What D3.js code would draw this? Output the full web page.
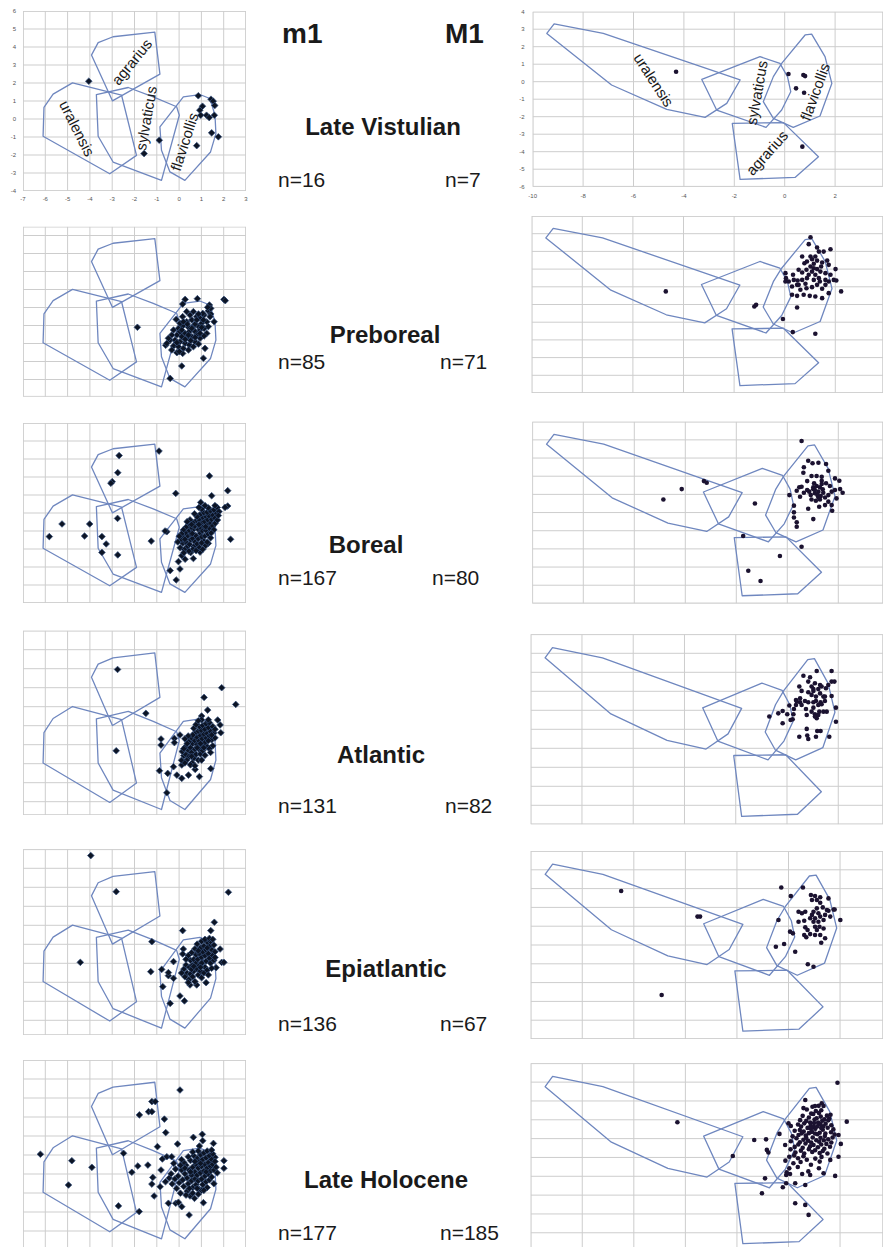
<!DOCTYPE html>
<html><head><meta charset="utf-8">
<script src="https://cdn.jsdelivr.net/npm/d3@7"></script>
<style>body{margin:0;background:#fff}svg{display:block}text{font-family:"Liberation Sans",Arial,sans-serif}</style>
</head><body><svg id="c" width="883" height="1247"></svg>
<script>
// ---------- data ----------
const periods = ["Late Vistulian","Preboreal","Boreal","Atlantic","Epiatlantic","Late Holocene"];
const m1Counts = [16,85,167,131,136,177];
const M1Counts = [7,71,80,82,67,185];
const m1XTicks = [-7,-6,-5,-4,-3,-2,-1,0,1,2,3];
const m1YTicks = [6,5,4,3,2,1,0,-1,-2,-3,-4];
const M1XTicks = [-10,-8,-6,-4,-2,0,2];
const M1YTicks = [4,3,2,1,0,-1,-2,-3,-4,-5,-6];
const species = ["uralensis","sylvaticus","flavicollis","agrarius"];

// m1 reference polygons (x, y)
const m1Uralensis = [[-6.10,-0.96],[-6.06,0.64],[-5.65,1.38],[-4.78,2.01],[-2.58,1.32],[-1.91,-2.02],[-3.11,-3.04]];
const m1Sylvaticus = [[-3.71,1.36],[-2.28,1.75],[-1.16,1.23],[-0.11,0.68],[0.01,0.21],[-0.79,-3.41],[-2.96,-2.39],[-3.63,-0.96]];
const m1Flavicollis = [[-0.86,-0.44],[0.19,1.23],[0.93,1.36],[1.38,1.14],[1.61,0.21],[1.65,-0.81],[1.41,-1.83],[0.26,-3.41],[-0.41,-2.94],[-0.79,-1.74]];
const m1Agrarius = [[-3.93,3.55],[-3.63,4.24],[-2.96,4.57],[-1.09,4.83],[-0.86,2.49],[-2.99,1.01]];
// M1 reference polygons
const M1Uralensis = [[-9.44,2.76],[-9.15,3.30],[-7.20,2.76],[-1.77,0.10],[-2.30,-1.24],[-3.16,-2.04],[-4.68,-1.58],[-6.87,-0.19]];
const M1Sylvaticus = [[-3.29,0.13],[-0.98,1.43],[-0.19,1.05],[0.11,0.29],[0.24,-0.57],[-0.12,-1.62],[-0.74,-2.61],[-2.70,-1.62]];
const M1Flavicollis = [[-0.85,-1.14],[-0.45,0.29],[-0.12,1.05],[0.81,2.67],[1.07,2.72],[1.60,1.43],[1.87,-0.10],[1.40,-1.96],[0.34,-2.61],[-0.45,-2.10]];
const M1Agrarius = [[-2.08,-2.38],[-0.05,-2.34],[1.34,-4.29],[0.41,-5.47],[-1.77,-5.58]];

// species labels (first row only): [x, y, angle]
const m1LabelPos = [[-4.57,-0.52,63],[-1.48,0.04,-80],[0.23,-1.26,-72],[-2.13,3.18,-51]];
const M1LabelPos = [[-5.19,0.10,57],[-1.11,-0.63,-80],[1.20,-0.57,-70],[-0.71,-4.06,-48]];

// m1 specimens per period
const m1LateVistulian = [[-4.05,2.10],[0.86,1.29],[1.43,1.10],[1.53,0.99],[1.60,0.75],[1.05,0.71],[0.93,0.49],[0.97,0.21],[1.23,0.21],[1.35,0.08],[1.58,0.21],[1.46,-0.77],[1.76,-0.99],[0.79,-1.48],[-0.89,-1.18],[-1.57,-1.92]];
const m1Preboreal = [[-1.87,-0.10],[-0.40,-2.94],[0.12,-2.25],[1.09,-1.82],[1.16,-1.27],[2.01,1.45],[2.07,1.38],[0.27,1.45],[0.82,1.49],[1.36,1.14],[-0.60,-1.10],[1.57,0.21],
[0.16,1.19],[0.64,0.77],[0.79,0.49],[0.16,0.49],[0.34,0.21],[0.57,0.31],[0.94,0.40],[1.12,0.58],[1.31,0.82],[1.42,0.64],[1.24,0.21],[1.01,0.12],[0.87,-0.06],[0.64,-0.03],[0.42,-0.10],[0.16,-0.03],[-0.03,-0.16],[-0.13,0.34],[0.04,-0.34],[0.27,-0.44],[0.46,-0.34],[0.72,-0.34],[0.94,-0.25],[1.12,-0.16],[1.24,-0.44],[0.57,-0.62],[0.34,-0.71],[0.12,-0.62],[-0.10,-0.53],[-0.33,-0.53],[-0.40,-0.81],[-0.18,-0.81],[0.04,-0.90],[0.27,-0.99],[0.46,-1.08],[0.72,-0.90],[0.94,-0.71],[-0.25,-1.14],[-0.03,-1.18],[0.19,-1.27],[0.42,-1.36],[0.64,-1.18],[-0.10,-1.51],[0.16,-1.55],[-0.48,-0.71],[0.79,-0.53],[1.39,0.49],[0.49,0.58],[0.34,0.77],[0.72,0.08],[0.04,0.12],[-0.25,-0.25],[0.79,0.31],[1.09,0.31],[1.31,-0.06],[0.12,-0.25],[0.37,0.08],[0.52,-0.84],[0.87,-1.03],[-0.55,-0.99],[-0.33,-1.36],[-0.10,-0.95],[0.27,-0.77],[0.72,-0.66],[0.94,-0.44],[0.57,-0.16],[1.12,-0.58],[1.42,0.95],[1.28,1.01],[1.06,0.67],[0.87,0.64],[0.42,-0.53],[0.19,0.21],[1.01,-0.10],[0.01,-1.45]];
const m1Boreal = [[-2.69,4.19],[-2.75,3.24],[-3.00,2.74],[-3.06,2.65],[-0.90,4.44],[1.36,3.06],[-0.15,2.09],[2.18,2.24],[1.46,1.96],[-2.76,0.70],[-5.25,0.39],[-4.01,0.39],[-5.82,-0.31],[-4.24,-0.28],[-3.46,-0.31],[-3.27,-0.72],[-3.46,-1.19],[-2.75,-1.33],[-1.25,-0.56],[2.31,-0.46],[-0.55,-0.04],[-0.63,0.00],[-0.40,-2.20],[-0.13,-2.72],[0.04,-2.11],[-0.03,-1.70],[0.27,-1.57],[0.64,-1.53],[0.94,-1.17],[1.31,-0.69],[0.12,-1.37],[0.52,-1.20],[2.18,1.39],[2.06,1.31],[0.97,1.59],
[0.05,-0.93],[0.17,-0.68],[0.08,-0.47],[0.22,-0.31],[0.31,-0.62],[0.36,-0.88],[0.24,-1.03],[0.47,-0.74],[0.52,-0.48],[0.38,-0.27],[0.29,-0.08],[0.46,0.03],[0.57,-0.21],[0.61,-0.42],[0.72,-0.61],[0.66,-0.87],[0.81,-0.72],[0.86,-0.43],[0.74,-0.24],[0.63,0.07],[0.54,0.22],[0.71,0.27],[0.87,0.08],[0.96,-0.12],[1.02,-0.33],[1.11,-0.57],[1.16,-0.28],[1.04,0.02],[0.94,0.22],[0.83,0.41],[0.76,0.57],[0.91,0.62],[1.01,0.43],[1.12,0.26],[1.21,0.03],[1.31,-0.17],[1.36,0.16],[1.24,0.37],[1.14,0.53],[1.06,0.77],[0.94,0.91],[1.11,1.02],[1.22,0.79],[1.29,0.62],[1.42,0.44],[1.51,0.28],[1.46,0.66],[1.34,0.86],[1.26,1.04],[1.41,1.12],[1.52,0.88],[1.61,0.71],[1.66,1.02],[1.56,1.18],[1.71,1.31],[1.79,1.08],[1.62,0.43],[1.72,0.61],[0.61,0.46],[0.49,0.62],[0.41,0.33],[0.31,0.21],[0.19,0.06],[0.11,-0.16],[0.01,-0.29],[-0.06,-0.61],[0.62,-1.02],[0.91,-0.92],[1.19,-0.81],[1.01,-0.66],[1.41,-0.38],[0.36,0.52],[0.81,0.79],[0.69,0.96],[1.01,1.22],[1.31,1.29],[0.89,1.31],[1.16,1.41],[0.44,-1.12],[0.21,-1.21],[0.76,-1.09],[1.06,-1.02],[1.26,-0.62],[1.56,0.07],[1.44,-0.11],[0.89,0.36],[0.59,-0.14],[0.26,-0.46],[0.56,0.36],[1.19,0.24],[1.76,0.86],[1.61,1.41]];
const m1Atlantic = [[-2.76,3.96],[1.91,3.00],[2.54,2.12],[1.12,2.49],[-1.49,1.65],[1.28,1.82],[1.01,1.51],[-2.82,-0.32],[-0.81,0.30],[-0.81,-0.02],[-0.21,0.33],[-0.21,0.11],[-0.88,-1.37],[-0.51,-1.51],[-0.25,-1.16],[-0.10,-1.60],[0.12,-1.77],[0.42,-1.60],[0.72,-1.30],[0.91,-1.68],[1.42,-1.26],[-0.55,-2.53],[0.12,-1.07],[1.73,1.30],[1.84,1.04],[1.87,0.63],[0.04,0.51],
[0.11,-0.82],[0.21,-0.58],[0.14,-0.36],[0.31,-0.52],[0.36,-0.79],[0.46,-0.61],[0.41,-0.29],[0.29,-0.11],[0.51,-0.16],[0.56,-0.41],[0.66,-0.71],[0.59,-0.96],[0.76,-0.51],[0.71,-0.24],[0.61,0.06],[0.44,0.16],[0.56,0.36],[0.71,0.21],[0.81,0.01],[0.91,-0.26],[0.96,-0.49],[1.06,-0.31],[1.01,-0.04],[0.89,0.21],[0.79,0.41],[0.71,0.61],[0.86,0.71],[0.96,0.49],[1.04,0.31],[1.16,0.11],[1.26,-0.11],[1.21,0.36],[1.11,0.56],[0.99,0.76],[0.91,0.96],[1.06,1.01],[1.16,0.81],[1.26,0.59],[1.36,0.46],[1.46,0.26],[1.41,0.71],[1.31,0.91],[1.21,1.11],[1.36,1.16],[1.51,0.96],[1.56,0.61],[1.61,0.36],[1.51,-0.06],[1.36,-0.21],[1.16,-0.56],[0.86,-0.81],[0.51,-1.06],[0.26,-0.96],[0.36,0.06],[0.21,-0.21],[0.66,0.86],[0.76,1.06],[1.01,1.31],[0.61,0.51],[0.96,0.06],[1.31,0.21],[0.81,-0.16],[0.56,-0.61],[1.11,-0.16],[1.46,0.51],[1.61,0.81],[0.41,0.46],[0.26,0.31],[0.86,1.26],[1.31,1.31],[1.01,-0.81],[0.71,-1.11],[1.41,-0.41]];
const m1Epiatlantic = [[-3.96,5.67],[-2.82,3.77],[2.21,3.74],[-4.43,0.05],[-1.22,1.14],[-1.27,-0.44],[-0.78,-0.32],[0.16,1.72],[1.42,1.72],[1.58,2.16],[0.19,0.75],[0.16,0.49],[-0.48,-0.65],[-0.73,-1.23],[0.04,-1.72],[0.24,-1.98],[-0.40,-2.11],[1.84,0.75],[1.91,0.05],[2.01,0.05],[1.66,-0.23],[-0.25,0.09],[-0.48,-0.49],[1.21,-1.02],[0.79,-1.14],[0.49,-1.14],[-0.25,-0.79],
[0.21,-0.31],[0.36,-0.52],[0.31,-0.09],[0.46,-0.21],[0.51,-0.56],[0.44,-0.86],[0.61,-0.71],[0.66,-0.41],[0.59,-0.11],[0.51,0.16],[0.66,0.21],[0.76,0.01],[0.81,-0.31],[0.86,-0.61],[0.96,-0.41],[0.91,-0.11],[0.84,0.21],[0.76,0.46],[0.91,0.51],[1.01,0.31],[1.06,0.06],[1.16,-0.21],[1.11,-0.51],[1.26,-0.36],[1.21,0.11],[1.16,0.41],[1.06,0.61],[0.96,0.81],[1.11,0.91],[1.21,0.71],[1.31,0.51],[1.36,0.26],[1.41,0.01],[1.46,-0.26],[1.51,0.41],[1.46,0.71],[1.36,0.91],[1.26,1.11],[1.41,1.16],[1.56,0.96],[1.61,0.61],[1.56,0.16],[0.81,1.01],[0.71,0.76],[0.56,0.56],[0.41,0.41],[0.31,0.21],[1.01,1.16],[1.16,1.26],[0.41,-1.01],[0.71,-0.96],[1.01,-0.76],[0.26,-0.71],[0.11,-0.51],[1.31,-0.61],[0.56,-0.31],[1.01,0.01],[0.86,0.66],[1.26,0.81],[0.66,-0.16],[1.36,1.31],[1.51,1.26],[0.96,-0.21],[1.61,0.31]];
const m1LateHolocene = [[0.04,4.42],[-1.22,3.81],[-1.07,3.81],[-1.78,3.11],[-1.37,3.28],[-1.22,3.28],[-0.66,2.89],[-0.60,2.18],[0.64,1.93],[1.04,2.09],[1.54,1.61],[-0.07,1.58],[-0.97,1.44],[-6.22,1.04],[-4.81,0.70],[-3.91,0.35],[-4.96,-0.58],[-2.49,1.09],[-2.12,0.09],[-1.85,0.42],[-1.40,0.47],[-2.72,-1.68],[-1.79,-1.98],[-1.18,-0.18],[-1.22,-0.53],[-1.12,-1.16],[-0.75,0.79],[-0.55,0.91],[-0.33,0.91],[-0.81,0.21],[-0.85,-0.67],[-0.48,-1.54],[-0.15,-1.54],[-0.03,-1.49],[0.12,-1.72],[0.45,-2.16],[1.09,-1.51],[0.69,-1.28],[0.49,-1.16],[2.01,0.70],[2.01,0.30],[1.61,0.88],[1.06,1.75],[0.91,1.47],
[-0.61,-0.41],[-0.44,-0.21],[-0.31,-0.52],[-0.36,0.01],[-0.19,-0.26],[-0.16,0.26],[-0.04,-0.11],[0.01,-0.46],[-0.11,-0.76],[0.06,-1.01],[0.11,0.21],[0.16,-0.31],[0.21,-0.66],[0.26,0.01],[0.31,0.46],[0.36,-0.21],[0.41,-0.51],[0.36,-0.91],[0.46,0.21],[0.51,0.71],[0.56,-0.06],[0.56,-0.36],[0.61,-0.71],[0.61,0.36],[0.66,0.96],[0.71,0.11],[0.71,-0.26],[0.76,0.51],[0.76,-0.56],[0.81,0.81],[0.81,-0.06],[0.86,0.31],[0.86,-0.36],[0.91,0.66],[0.91,-0.81],[0.96,1.01],[0.96,0.06],[1.01,0.41],[1.01,-0.26],[1.06,0.76],[1.06,-0.56],[1.11,0.16],[1.11,1.11],[1.16,0.51],[1.16,-0.11],[1.21,0.86],[1.21,-0.41],[1.26,0.31],[1.26,1.21],[1.31,0.01],[1.31,0.61],[1.36,-0.31],[1.36,0.96],[1.41,0.41],[1.41,0.16],[1.46,0.76],[1.46,-0.16],[1.51,0.51],[1.51,1.06],[1.56,0.21],[1.56,-0.51],[1.61,0.66],[1.66,0.36],[1.71,0.06],[0.21,0.61],[0.41,0.91],[0.11,0.76],[0.61,1.16],[0.86,1.21],[0.06,0.46],[0.31,-1.11],[0.61,-1.01],[0.86,-1.06],[1.01,-0.86],[1.26,-0.71],[-0.24,0.56],[0.46,-0.76],[0.71,0.66],[0.96,0.56],[1.21,0.11],[0.51,0.11],[0.26,0.31],[0.81,-0.76],[1.11,-0.86],[1.46,1.26]];

// M1 specimens per period
const M1LateVistulian = [[-4.31,0.57],[0.15,0.44],[0.74,0.38],[0.81,0.32],[0.45,-0.38],[0.77,-0.63],[0.70,-3.71]];
const M1Preboreal = [[-4.70,-0.26],[-1.20,-1.11],[-1.13,-1.02],[-0.07,-1.82],[0.32,-2.56],[1.21,-2.65],[0.49,-1.17],[2.23,-0.26],[1.02,2.80],[0.95,2.41],[1.81,2.12],[1.28,2.22],
[0.69,1.71],[0.78,1.33],[0.88,1.43],[1.08,1.56],[1.15,1.30],[1.02,1.15],[1.21,1.71],[1.35,1.99],[1.48,1.37],[1.68,1.48],[1.74,1.24],[0.55,0.96],[0.69,0.81],[0.86,0.96],[1.08,0.86],[1.28,1.00],[1.61,0.77],[1.81,0.68],[2.01,1.00],[0.03,0.77],[0.05,0.49],[0.03,0.30],[0.16,0.30],[0.33,0.68],[0.51,0.36],[0.69,0.39],[0.88,0.49],[1.15,0.39],[1.35,0.49],[1.61,0.39],[1.94,0.39],[2.04,0.36],[0.29,0.02],[0.49,0.11],[0.62,-0.17],[0.86,-0.08],[1.08,-0.02],[1.28,0.11],[1.48,-0.11],[1.61,0.11],[1.74,-0.36],[0.49,-0.51],[0.75,-0.45],[0.99,-0.51],[1.21,-0.55],[1.48,-0.64],[0.29,-0.45],[0.95,0.68],[1.21,0.68],[1.41,0.86],[0.82,0.17],[0.36,0.39],[1.02,1.71],[1.28,1.48],[1.44,1.15],[0.55,0.11],[1.54,1.99],[1.15,1.05],[1.74,0.30],[1.39,0.30]];
const M1Boreal = [[0.56,2.94],[-4.86,-0.28],[-4.14,0.29],[-3.27,0.73],[-3.16,0.64],[-1.27,-0.50],[-1.73,-2.29],[0.56,-2.88],[-0.29,-3.39],[-1.53,-4.20],[-1.05,-4.77],[0.08,-0.04],[1.02,-1.36],[0.26,-0.62],[0.26,-0.99],[0.26,-1.27],[0.37,-1.54],[0.37,-1.78],[0.82,-0.79],[1.76,-0.90],[2.17,0.09],[2.07,0.29],[1.87,0.88],[2.04,0.75],[0.82,1.85],[0.99,1.71],[1.22,1.74],[1.52,1.67],[0.65,1.49],[0.63,1.19],[1.61,1.30],[0.78,0.73],[0.95,1.01],[1.15,1.01],[1.35,0.97],[1.52,0.61],[1.35,0.57],[0.47,0.39],[0.56,0.42],[0.37,0.20],[0.50,-0.13],[0.65,0.09],[0.86,0.15],[1.02,0.28],[1.08,0.06],[1.22,0.15],[1.31,-0.09],[1.48,-0.17],[1.61,-0.04],[1.74,0.15],[1.87,0.24],[1.93,-0.22],[0.95,-0.28],[1.12,-0.35],[1.28,-0.28],[1.48,-0.59],[1.61,-0.40],[1.74,-0.59],[1.02,0.39],[1.15,0.46],[1.28,0.39],[1.39,0.28],[1.41,0.09],[1.22,-0.17],[1.08,0.24],[0.92,-0.04],[0.78,0.24],[1.25,-0.68],[1.05,0.61],[1.35,0.75],[1.18,-0.04],[1.67,0.46]];
const M1Atlantic = [[-0.69,-0.33],[-0.34,-0.16],[-0.17,-0.04],[-0.17,-0.68],[0.01,-0.21],[0.25,-0.21],[0.22,-0.47],[0.14,-0.51],[0.09,0.25],[0.35,0.28],[0.51,0.42],[0.27,0.07],[0.48,-1.39],[0.79,-1.33],[0.83,-1.51],[1.13,-1.39],[0.77,-0.98],[1.18,-1.09],[1.31,-1.09],[1.65,-1.39],[1.91,-0.60],[1.91,0.14],[1.74,0.75],[1.74,1.51],[1.85,1.51],[1.74,2.07],[1.16,2.07],[0.64,1.82],[0.90,1.74],[0.48,1.25],[0.57,1.02],[0.83,0.95],[1.03,1.02],[1.22,1.12],[1.35,1.25],[1.52,1.16],[1.61,1.33],[1.09,1.42],[1.29,1.33],[0.96,0.81],[1.13,0.72],[1.29,0.89],[1.42,0.72],[1.13,0.49],[1.31,0.42],[1.48,0.49],[1.22,0.28],[1.03,0.14],[0.83,0.42],[0.70,0.49],[0.51,0.63],[0.35,0.54],[0.57,0.28],[0.74,0.07],[0.96,-0.07],[1.09,-0.21],[1.26,-0.07],[1.42,-0.07],[1.55,-0.07],[1.16,-0.42],[1.09,-0.33],[1.22,-0.25],[0.96,1.25],[1.03,1.12],[0.83,1.51],[1.35,0.32],[1.03,0.42],[0.77,-0.25],[0.38,0.46],[1.48,0.72]];
const M1Epiatlantic = [[-6.49,1.87],[-3.53,0.51],[-3.43,0.51],[-4.92,-3.66],[-0.28,2.06],[0.56,2.06],[0.09,1.60],[-0.39,0.33],[0.06,-0.29],[0.17,-0.38],[-0.49,-1.09],[-0.17,-0.95],[0.26,-1.36],[0.75,-2.02],[0.97,-2.16],[1.27,-0.88],[1.42,-0.64],[1.23,-0.47],[2.01,0.33],[1.75,0.89],[1.79,0.89],[1.55,1.48],[0.87,1.66],[1.03,1.61],[1.23,1.54],[0.91,1.39],[1.10,1.39],[1.23,1.25],[1.33,1.00],[0.39,0.77],[0.52,0.69],[0.65,0.77],[0.39,0.24],[0.61,0.29],[0.65,-0.06],[0.74,-0.20],[0.61,-0.47],[0.69,-0.59],[0.84,-0.42],[1.03,-0.03],[1.10,-0.20],[0.97,0.24],[0.84,0.42],[1.03,0.42],[1.16,0.24],[1.23,0.51],[1.36,0.33],[1.42,0.60],[1.49,0.86],[1.62,0.51],[0.97,0.77],[1.10,0.95],[1.16,0.69],[0.91,0.60],[1.36,-0.12],[1.20,-0.03],[1.03,-0.47],[1.55,0.82]];
const M1LateHolocene = [[1.90,2.97],[2.26,0.90],[-4.31,0.87],[-2.16,-0.92],[-1.33,-0.07],[-0.87,-0.04],[-0.84,-0.60],[-0.78,-0.74],[-0.35,0.25],[-0.13,-0.34],[-0.91,-2.11],[-1.03,-2.90],[-0.22,-2.58],[0.26,-3.43],[0.65,-3.52],[0.78,-4.05],[0.26,-2.37],[0.65,-2.46],[-0.09,-2.37],[-0.09,-1.93],[0.06,-1.88],[1.81,-1.98],[1.94,-0.96],[2.03,-0.28],[1.94,0.19],[0.65,2.05],[1.03,1.73],[1.29,1.88],[1.36,1.73],[0.00,0.81],[0.09,0.67],[0.84,-1.93],[1.36,-1.84],[1.62,-1.13],
[0.71,1.55],[0.88,1.33],[1.06,1.47],[1.18,1.36],[1.27,1.51],[1.49,1.22],[0.55,1.21],[0.79,1.12],[0.96,1.31],[1.09,1.08],[1.25,1.17],[1.39,1.02],[1.58,1.06],[1.63,1.27],[0.45,0.98],[0.69,0.94],[0.84,0.86],[1.01,1.01],[1.15,0.86],[1.31,0.95],[1.44,0.79],[1.54,0.97],[1.66,0.71],[0.37,0.75],[0.49,0.64],[0.61,0.81],[0.86,0.69],[0.98,0.61],[1.17,0.77],[1.27,0.57],[1.35,0.66],[1.52,0.58],[1.74,0.49],[0.24,0.42],[0.44,0.46],[0.59,0.38],[0.74,0.57],[0.91,0.36],[1.04,0.52],[1.21,0.31],[1.33,0.47],[1.43,0.27],[1.65,0.34],[1.79,0.22],[0.16,0.12],[0.39,0.19],[0.51,0.28],[0.67,0.16],[0.79,0.29],[0.94,0.06],[1.12,0.23],[1.24,0.04],[1.41,0.14],[1.54,-0.04],[1.71,0.06],[0.09,-0.14],[0.31,0.02],[0.44,-0.19],[0.58,-0.06],[0.76,-0.11],[0.88,-0.21],[1.08,-0.09],[1.19,-0.17],[1.37,-0.09],[1.47,-0.28],[1.66,-0.21],[0.24,-0.44],[0.38,-0.31],[0.55,-0.49],[0.66,-0.26],[0.84,-0.41],[0.97,-0.34],[1.14,-0.46],[1.27,-0.31],[1.39,-0.54],[1.61,-0.43],[0.08,-0.57],[0.27,-0.74],[0.48,-0.64],[0.61,-0.79],[0.79,-0.56],[0.92,-0.71],[1.03,-0.62],[1.21,-0.76],[1.33,-0.66],[1.51,-0.79],[0.03,-0.96],[0.22,-0.89],[0.37,-1.04],[0.58,-0.94],[0.71,-1.12],[1.04,-1.06],[1.28,-0.97],[-0.12,-1.17],[0.19,-1.31],[0.47,-1.24],[0.87,-1.39],[1.21,-1.22],[0.03,-1.58],[0.36,-1.51],[0.77,-1.74],[1.18,-1.57],[-0.07,-1.79],[0.53,-1.88],[0.58,1.62],[0.93,1.69],[1.17,1.74],[1.03,0.27],[0.69,0.04],[1.29,0.59],[1.11,0.64],[0.99,0.83],[1.24,0.77],[0.87,0.52]];

const m1Series = [m1LateVistulian,m1Preboreal,m1Boreal,m1Atlantic,m1Epiatlantic,m1LateHolocene];
const M1Series = [M1LateVistulian,M1Preboreal,M1Boreal,M1Atlantic,M1Epiatlantic,M1LateHolocene];
const m1Polys = [m1Uralensis,m1Sylvaticus,m1Flavicollis,m1Agrarius];
const M1Polys = [M1Uralensis,M1Sylvaticus,M1Flavicollis,M1Agrarius];

// ---------- layout ----------
const leftLayout = [
  {x0:179.1,sx:22.3,y0:119,sy:18,top:11,bot:191},
  {x0:179.1,sx:22.3,y0:325.5,sy:18,top:226.7,bot:396.7},
  {x0:179.1,sx:22.3,y0:531,sy:18,top:423,bot:603},
  {x0:179.1,sx:22.3,y0:744.7,sy:19,top:630.7,bot:815},
  {x0:179.1,sx:22.3,y0:963.3,sy:19,top:849.3,bot:1035},
  {x0:179.1,sx:22.3,y0:1174,sy:19,top:1060,bot:1250}
];
const rightLayout = [
  {p0:532.7,sx:25.2,top:11.7,sy:17.5},
  {p0:531.7,sx:25.3,top:216,sy:17.7},
  {p0:532.3,sx:25.5,top:421.7,sy:18.17},
  {p0:530.7,sx:25.63,top:634.3,sy:19},
  {p0:530.7,sx:25.78,top:851,sy:18.8},
  {p0:530.7,sx:25.78,top:1063.3,sy:18.83}
];
const titlePos = [[383,135],[385,343],[366,553],[381,763],[386,977],[386,1188]];
const nBase = [187,369,585,813,1031,1240];
const nRightX = [445,440,432,445,440,440];

const svg = d3.select("#c");
const gridCol = "#cdcdcd", polyCol = "#6f87bf";
const line = d3.line();
let clipId = 0;

function panel(x, y, xmin, xmax, ymin, ymax, xGridStep, polys, pts, isLeft, labels){
  const id = "clip" + (clipId++);
  const [px0, px1] = [x(xmin), Math.min(x(xmax), 883)];
  const [py0, py1] = [y(ymax), y(ymin)];
  svg.append("clipPath").attr("id", id).append("rect")
    .attr("x", px0).attr("y", py0).attr("width", px1 - px0).attr("height", py1 - py0);
  const g = svg.append("g").attr("clip-path", `url(#${id})`);
  g.append("rect").attr("x", px0).attr("y", py0).attr("width", px1 - px0).attr("height", py1 - py0)
    .attr("fill", "#fff").attr("stroke", gridCol).attr("stroke-width", 1.6);
  const xg = d3.range(Math.ceil(xmin), Math.floor(xmax) + 1).filter(v => v % xGridStep === 0);
  const yg = d3.range(Math.ceil(ymin), Math.floor(ymax) + 1);
  g.selectAll(".vx").data(xg).join("line")
    .attr("x1", d => x(d)).attr("x2", d => x(d)).attr("y1", py0).attr("y2", py1)
    .attr("stroke", gridCol).attr("stroke-width", 1);
  g.selectAll(".hy").data(yg).join("line")
    .attr("y1", d => y(d)).attr("y2", d => y(d)).attr("x1", px0).attr("x2", px1)
    .attr("stroke", gridCol).attr("stroke-width", 1);
  g.selectAll(".poly").data(polys).join("path")
    .attr("d", p => line(p.map(d => [x(d[0]), y(d[1])])) + "Z")
    .attr("fill", "none").attr("stroke", polyCol).attr("stroke-width", 1.3).attr("stroke-linejoin", "round");
  if (labels) {
    g.selectAll(".lab").data(labels).join("text")
      .attr("transform", (d) => `translate(${x(d[0])},${y(d[1])}) rotate(${d[2]})`)
      .attr("text-anchor", "middle").attr("dominant-baseline", "central")
      .attr("font-size", 15).attr("fill", "#1a1a1a")
      .text((d, i) => species[i]);
  }
  if (isLeft) {
    g.selectAll(".pt").data(pts).join("path")
      .attr("transform", d => `translate(${x(d[0])},${y(d[1])}) rotate(45)`)
      .attr("d", d3.symbol(d3.symbolSquare, 22)())
      .attr("fill", "#0c1424").attr("stroke", "#34507c").attr("stroke-width", 0.7);
  } else {
    g.selectAll(".pt").data(pts).join("circle")
      .attr("cx", d => x(d[0])).attr("cy", d => y(d[1])).attr("r", 2.3)
      .attr("fill", "#1b1230");
  }
}

periods.forEach((p, i) => {
  const L = leftLayout[i];
  const lx = d3.scaleLinear().domain([-7, 3]).range([L.x0 - 7 * L.sx, L.x0 + 3 * L.sx]);
  const ly = d3.scaleLinear().domain([(L.y0 - L.bot) / L.sy, (L.y0 - L.top) / L.sy]).range([L.bot, L.top]);
  panel(lx, ly, -7, 3, ly.domain()[0], ly.domain()[1], 1, m1Polys, m1Series[i], true, i === 0 ? m1LabelPos : null);

  const R = rightLayout[i];
  const rx = d3.scaleLinear().domain([-10, 4]).range([R.p0, R.p0 + 14 * R.sx]);
  const ry = d3.scaleLinear().domain([-6, 4]).range([R.top + 10 * R.sy, R.top]);
  panel(rx, ry, -10, 4, -6, 4, 2, M1Polys, M1Series[i], false, i === 0 ? M1LabelPos : null);

  if (i === 0) {
    svg.append("g").selectAll("text").data(m1YTicks).join("text")
      .attr("x", lx(-7) - 7).attr("y", d => ly(d)).attr("dy", "0.35em")
      .attr("text-anchor", "end").attr("font-size", 6).attr("fill", "#555").text(d => d);
    svg.append("g").selectAll("text").data(m1XTicks).join("text")
      .attr("x", d => lx(d)).attr("y", ly(-4) + 10)
      .attr("text-anchor", "middle").attr("font-size", 6).attr("fill", "#555").text(d => d);
    svg.append("g").selectAll("text").data(M1YTicks).join("text")
      .attr("x", rx(-10) - 8).attr("y", d => ry(d)).attr("dy", "0.35em")
      .attr("text-anchor", "end").attr("font-size", 6).attr("fill", "#555").text(d => d);
    svg.append("g").selectAll("text").data(M1XTicks).join("text")
      .attr("x", d => rx(d)).attr("y", ry(-6) + 11)
      .attr("text-anchor", "middle").attr("font-size", 6).attr("fill", "#555").text(d => d);
  }

  svg.append("text").attr("x", titlePos[i][0]).attr("y", titlePos[i][1])
    .attr("text-anchor", "middle").attr("font-size", 24).attr("font-weight", "bold")
    .attr("fill", "#1a1a1a").text(p);
  svg.append("text").attr("x", 278).attr("y", nBase[i]).attr("font-size", 21)
    .attr("fill", "#1a1a1a").text("n=" + m1Counts[i]);
  svg.append("text").attr("x", nRightX[i]).attr("y", nBase[i]).attr("font-size", 21)
    .attr("fill", "#1a1a1a").text("n=" + M1Counts[i]);
});

svg.append("text").attr("x", 282).attr("y", 43).attr("font-size", 28).attr("font-weight", "bold").attr("fill", "#1a1a1a").text("m1");
svg.append("text").attr("x", 445).attr("y", 43).attr("font-size", 28).attr("font-weight", "bold").attr("fill", "#1a1a1a").text("M1");
</script></body></html>
